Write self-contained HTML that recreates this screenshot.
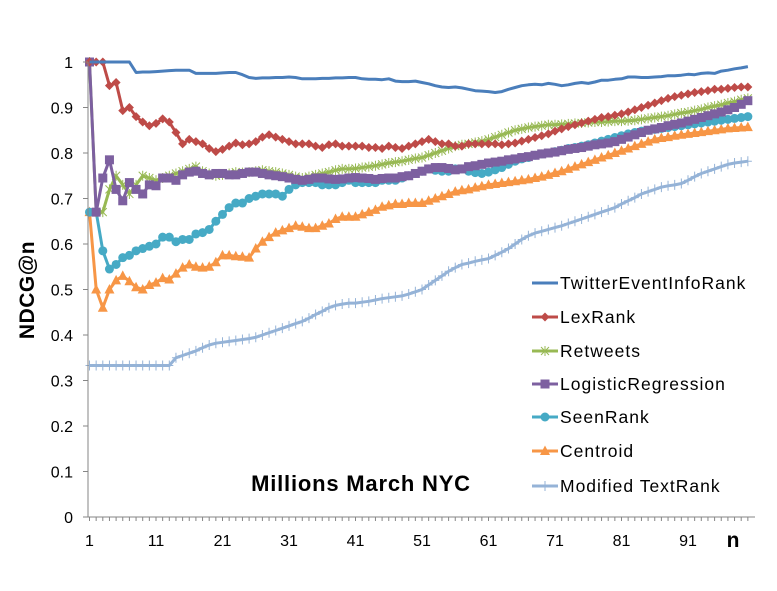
<!DOCTYPE html>
<html><head><meta charset="utf-8"><style>
body{margin:0;background:#fff;}
svg text{font-family:"Liberation Sans",sans-serif;}
</style></head><body>
<svg id="chart" width="777" height="586" xmlns="http://www.w3.org/2000/svg">
<rect width="777" height="586" fill="#fff"/>
<g id="grid"></g>
<g id="series"></g>
<g id="axes"></g>
<text x="0" y="0" transform="translate(34,290) rotate(-90)" text-anchor="middle" font-size="21" font-weight="bold" letter-spacing="0.5">NDCG@n</text>
<text x="733" y="547" text-anchor="middle" font-size="21" font-weight="bold">n</text>
<text x="361" y="491" text-anchor="middle" font-size="22" font-weight="bold" letter-spacing="0.8">Millions March NYC</text>
<g id="legend"></g>
</svg>
<script>
const seriesNames=["TwitterEventInfoRank","LexRank","Retweets","LogisticRegression","SeenRank","Centroid","Modified TextRank"];
const yTicks=[0,0.1,0.2,0.3,0.4,0.5,0.6,0.7,0.8,0.9,1];
const xTickLabels=[1,11,21,31,41,51,61,71,81,91];
const twitter=[1,1,1,1,1,1,1,0.977,0.978,0.978,0.979,0.98,0.981,0.982,0.982,0.982,0.975,0.975,0.975,0.975,0.976,0.977,0.977,0.972,0.966,0.964,0.965,0.965,0.966,0.966,0.967,0.966,0.963,0.963,0.963,0.964,0.964,0.965,0.965,0.966,0.966,0.963,0.962,0.962,0.961,0.963,0.958,0.957,0.957,0.958,0.955,0.952,0.948,0.945,0.944,0.945,0.943,0.94,0.937,0.936,0.935,0.933,0.935,0.94,0.944,0.948,0.95,0.951,0.95,0.953,0.951,0.948,0.95,0.953,0.955,0.953,0.956,0.96,0.96,0.962,0.963,0.967,0.967,0.966,0.966,0.967,0.968,0.97,0.97,0.971,0.973,0.972,0.975,0.976,0.975,0.98,0.982,0.985,0.987,0.99];
const lexrank=[1,1,1,0.948,0.955,0.893,0.9,0.88,0.868,0.86,0.865,0.875,0.868,0.845,0.82,0.83,0.825,0.82,0.81,0.803,0.808,0.815,0.822,0.818,0.82,0.825,0.835,0.84,0.835,0.83,0.825,0.82,0.82,0.82,0.815,0.812,0.818,0.82,0.815,0.815,0.815,0.815,0.812,0.812,0.81,0.815,0.812,0.81,0.815,0.82,0.825,0.83,0.825,0.82,0.82,0.815,0.815,0.82,0.82,0.82,0.82,0.82,0.818,0.82,0.822,0.826,0.83,0.834,0.838,0.842,0.848,0.853,0.858,0.862,0.866,0.87,0.874,0.878,0.88,0.883,0.886,0.89,0.895,0.9,0.905,0.91,0.915,0.92,0.924,0.927,0.93,0.933,0.935,0.937,0.94,0.94,0.942,0.944,0.945,0.945];
const retweets=[1,0.67,0.67,0.72,0.75,0.73,0.71,0.73,0.75,0.745,0.74,0.745,0.75,0.755,0.76,0.765,0.77,0.76,0.755,0.75,0.752,0.755,0.758,0.757,0.758,0.76,0.762,0.76,0.758,0.755,0.752,0.748,0.745,0.748,0.752,0.755,0.758,0.762,0.765,0.765,0.766,0.768,0.77,0.772,0.775,0.778,0.78,0.782,0.785,0.788,0.79,0.795,0.8,0.805,0.81,0.815,0.818,0.82,0.823,0.826,0.83,0.835,0.84,0.845,0.85,0.853,0.856,0.858,0.86,0.862,0.862,0.863,0.864,0.865,0.866,0.867,0.868,0.868,0.869,0.87,0.87,0.871,0.872,0.874,0.876,0.878,0.88,0.882,0.885,0.888,0.89,0.893,0.896,0.9,0.903,0.906,0.91,0.913,0.917,0.92];
const logistic=[1,0.67,0.745,0.785,0.72,0.695,0.735,0.72,0.71,0.73,0.728,0.745,0.745,0.74,0.752,0.758,0.76,0.755,0.752,0.755,0.755,0.752,0.752,0.755,0.758,0.758,0.755,0.752,0.75,0.748,0.745,0.742,0.74,0.742,0.745,0.745,0.743,0.742,0.743,0.745,0.746,0.745,0.744,0.742,0.744,0.745,0.745,0.748,0.75,0.755,0.76,0.765,0.768,0.768,0.766,0.763,0.765,0.77,0.772,0.775,0.778,0.78,0.782,0.785,0.787,0.79,0.792,0.795,0.798,0.8,0.802,0.805,0.808,0.81,0.812,0.815,0.818,0.82,0.822,0.825,0.83,0.835,0.84,0.845,0.85,0.853,0.856,0.86,0.863,0.866,0.87,0.874,0.878,0.882,0.886,0.89,0.895,0.9,0.907,0.915];
const seenrank=[0.67,0.67,0.585,0.545,0.555,0.57,0.575,0.585,0.59,0.595,0.6,0.615,0.615,0.605,0.61,0.61,0.622,0.625,0.632,0.65,0.665,0.68,0.69,0.69,0.7,0.705,0.71,0.71,0.71,0.705,0.72,0.73,0.735,0.735,0.735,0.73,0.73,0.73,0.735,0.74,0.735,0.735,0.735,0.735,0.74,0.74,0.74,0.745,0.75,0.755,0.76,0.765,0.762,0.76,0.76,0.765,0.765,0.76,0.757,0.755,0.758,0.763,0.768,0.775,0.782,0.787,0.79,0.795,0.798,0.8,0.803,0.806,0.81,0.812,0.815,0.818,0.822,0.826,0.83,0.834,0.838,0.842,0.845,0.848,0.85,0.852,0.854,0.856,0.858,0.86,0.862,0.864,0.866,0.868,0.87,0.872,0.874,0.876,0.878,0.88];
const centroid=[0.67,0.5,0.46,0.5,0.52,0.53,0.518,0.505,0.5,0.51,0.515,0.525,0.522,0.535,0.548,0.555,0.55,0.548,0.55,0.56,0.575,0.575,0.573,0.572,0.57,0.59,0.605,0.615,0.625,0.63,0.635,0.64,0.638,0.635,0.635,0.64,0.645,0.655,0.66,0.66,0.66,0.665,0.67,0.675,0.682,0.685,0.688,0.688,0.69,0.69,0.69,0.695,0.7,0.705,0.71,0.715,0.718,0.72,0.724,0.727,0.73,0.732,0.734,0.736,0.738,0.74,0.742,0.745,0.748,0.752,0.756,0.76,0.765,0.77,0.775,0.78,0.785,0.79,0.795,0.8,0.805,0.81,0.815,0.82,0.825,0.83,0.833,0.835,0.838,0.84,0.842,0.844,0.846,0.848,0.85,0.852,0.854,0.855,0.856,0.857];
const textrank=[0.333,0.333,0.333,0.333,0.333,0.333,0.333,0.333,0.333,0.333,0.333,0.333,0.333,0.35,0.355,0.36,0.365,0.372,0.378,0.382,0.384,0.386,0.388,0.39,0.392,0.395,0.4,0.405,0.41,0.415,0.42,0.425,0.43,0.437,0.445,0.452,0.46,0.465,0.468,0.47,0.47,0.472,0.474,0.477,0.48,0.482,0.484,0.486,0.49,0.495,0.5,0.51,0.52,0.53,0.54,0.548,0.555,0.558,0.562,0.565,0.568,0.575,0.582,0.59,0.6,0.61,0.618,0.624,0.628,0.632,0.636,0.64,0.645,0.65,0.655,0.66,0.665,0.67,0.675,0.68,0.688,0.695,0.702,0.71,0.715,0.72,0.725,0.728,0.73,0.733,0.74,0.748,0.755,0.76,0.765,0.77,0.775,0.778,0.78,0.782];

const NS="http://www.w3.org/2000/svg";
function xs(n){return 89.5+(n-1)*6.65;}
function ys(v){return 517-v*455;}
function mk(tag,attrs,parent){const e=document.createElementNS(NS,tag);for(const k in attrs)e.setAttribute(k,attrs[k]);parent.appendChild(e);return e;}
const axes=document.getElementById('axes');
const yAxis=mk('line',{x1:88,y1:62,x2:88,y2:517,stroke:'#868686','stroke-width':1},axes);


const xAxis=mk('line',{x1:88,y1:517,x2:755,y2:517,stroke:'#868686','stroke-width':1},axes);


yTicks.forEach(t=>{
  const y=ys(t);
  mk('line',{x1:83,y1:y,x2:88,y2:y,stroke:'#868686'},axes);
  const tx=mk('text',{x:73,y:y+6,'text-anchor':'end','font-size':16},axes);
  tx.textContent=String(t);
  
  
});
for(let n=1;n<=100;n++){mk('line',{x1:xs(n),y1:517,x2:xs(n),y2:521,stroke:'#868686'},axes);}
xTickLabels.forEach(n=>{
  const tx=mk('text',{x:xs(n),y:546,'text-anchor':'middle','font-size':16},axes);
  tx.textContent=String(n);
  
  
});
const defs=[
 {d:twitter,c:'#4a7ebb',m:'none'},
 {d:lexrank,c:'#be4b48',m:'diamond'},
 {d:retweets,c:'#98b954',m:'star'},
 {d:logistic,c:'#7d60a0',m:'square'},
 {d:seenrank,c:'#46aac5',m:'circle'},
 {d:centroid,c:'#f79646',m:'triangle'},
 {d:textrank,c:'#95b3d7',m:'plus'}
];
function marker(g,m,x,y,c){
  if(m==='diamond')mk('path',{d:`M${x} ${y-4.5}L${x+4.5} ${y}L${x} ${y+4.5}L${x-4.5} ${y}Z`,fill:c},g);
  else if(m==='square')mk('rect',{x:x-4.5,y:y-4.5,width:9,height:9,fill:c},g);
  else if(m==='circle')mk('circle',{cx:x,cy:y,r:4.5,fill:c},g);
  else if(m==='triangle')mk('path',{d:`M${x} ${y-5.5}L${x+5} ${y+4}L${x-5} ${y+4}Z`,fill:c},g);
  else if(m==='star')mk('path',{d:`M${x-4} ${y-4}L${x+4} ${y+4}M${x+4} ${y-4}L${x-4} ${y+4}M${x} ${y-5}L${x} ${y+5}`,stroke:c,'stroke-width':1},g);
  else if(m==='plus')mk('path',{d:`M${x} ${y-5}L${x} ${y+5}M${x-4} ${y}L${x+4} ${y}`,stroke:c,'stroke-width':1},g);
}
const sg=document.getElementById('series');
const order=[6,5,4,2,3,1,0];
order.forEach(i=>{
  const s=defs[i];
  const g=mk('g',{},sg);
  
  
  const pts=s.d.map((v,k)=>xs(k+1).toFixed(1)+','+ys(v).toFixed(1)).join(' ');
  mk('polyline',{points:pts,fill:'none',stroke:s.c,'stroke-width':3,'stroke-linejoin':'round'},g);
  if(s.m!=='none')s.d.forEach((v,k)=>marker(g,s.m,xs(k+1),ys(v),s.c));
});
const lg=document.getElementById('legend');
const rowsY=[283,317,351,384,417,451,486];
defs.forEach((s,i)=>{
  const g=mk('g',{},lg);
  
  
  const y=rowsY[i];
  mk('line',{x1:532,y1:y,x2:558,y2:y,stroke:s.c,'stroke-width':3},g);
  if(s.m!=='none')marker(g,s.m,545,y,s.c);
  const t=mk('text',{x:560,y:y+6,'font-size':17.5,'letter-spacing':1,fill:'#000'},g);
  t.textContent=seriesNames[i];
});
</script>
</body></html>
